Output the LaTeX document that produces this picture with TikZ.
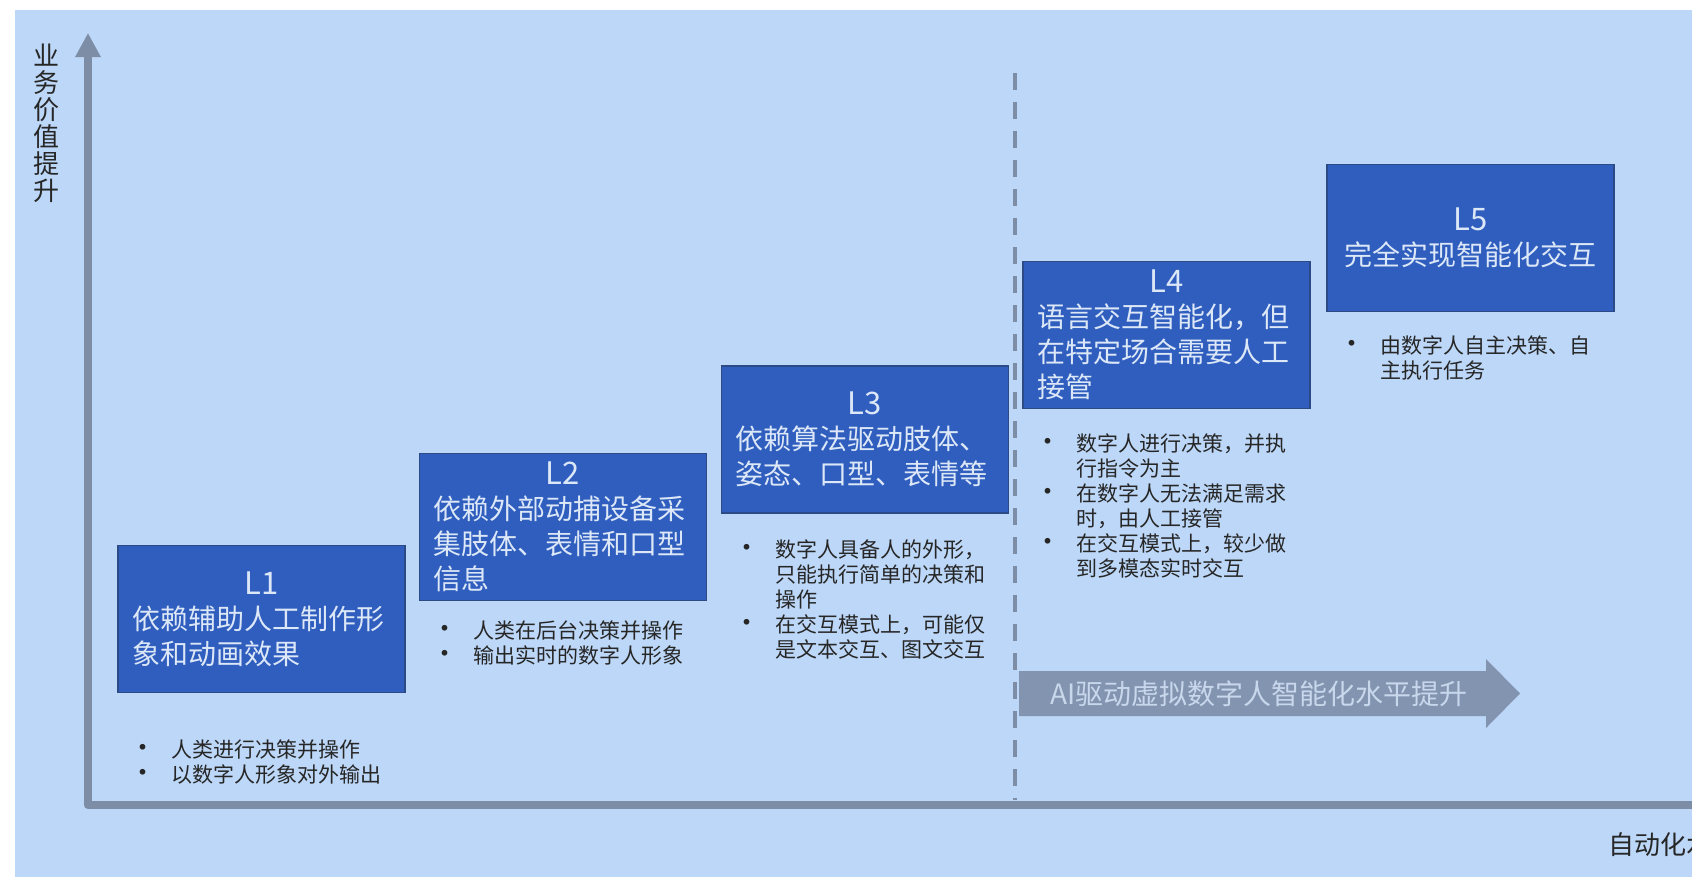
\documentclass[tikz,border=0pt]{standalone}
\usepackage{fontspec}
\setmainfont{Noto Sans CJK SC}
\usetikzlibrary{arrows.meta,positioning}

\definecolor{bgblue}{HTML}{BCD7F7}
\definecolor{lvlfill}{HTML}{2F5EBE}
\definecolor{lvledge}{HTML}{2B4A86}
\definecolor{lvltext}{HTML}{DCE7F7}
\definecolor{axisgray}{HTML}{7D8DA6}
\definecolor{trendgray}{HTML}{8294AF}
\definecolor{trendtext}{HTML}{C9D7EC}
\definecolor{notetext}{HTML}{262626}

\newcommand\lvltitle[1]{{\centering\fontsize{31}{35}\selectfont #1\par}}
\newcommand\bitem{\makebox[42pt][l]{\fontsize{27}{25}\selectfont\textbullet}}
\newcommand\bcont{\hspace*{42pt}}

\begin{document}
\begin{tikzpicture}[x=1pt,y=-1pt,
  lvl/.style={draw=lvledge,line width=1.2pt,fill=lvlfill,text=lvltext,
    text width=259pt,inner xsep=14pt,minimum height=147pt,align=left,
    font=\fontsize{28}{35}\selectfont},
  pts/.style={inner sep=0pt,align=left,text=notetext,font=\fontsize{21}{25}\selectfont},
  axis/.style={draw=axisgray,line width=8pt,line join=round}]
  \useasboundingbox (0,0) rectangle (1692,892);
  \fill[bgblue] (15,10) rectangle (1692,877);

  % axes
  \coordinate (ytop) at (88,33);
  \coordinate (orig) at (88,805);
  \coordinate (xend) at (1692,805);
  \draw[axis,{Triangle[length=24pt,width=24pt]}-] (ytop) -- (orig) -- (xend);
  \node[font=\fontsize{26}{27}\selectfont,text=notetext,align=center,inner sep=0pt] (ylab) at (46,123) {业\\务\\价\\值\\提\\升};
  \begin{scope}
    \clip (15,10) rectangle (1692,877);
    \node[font=\fontsize{26}{27}\selectfont,text=notetext,inner sep=0pt,anchor=west] (xlab) at (1608,845) {自动化水平提升};
  \end{scope}

  % divider
  \coordinate (dtop) at (1015,73);
  \coordinate (dbot) at (1015,800);
  \draw[draw=axisgray,line width=4pt,dash pattern=on 17pt off 12pt] (dtop) -- (dbot);

  % levels
  \node[lvl] (L1) at (261.5,619) {\lvltitle{L1}依赖辅助人工制作形\\象和动画效果};
  \node[lvl] (L2) at (563,527) {\lvltitle{L2}依赖外部动捕设备采\\集肢体、表情和口型\\信息};
  \node[lvl] (L3) at (865,439.5) {\lvltitle{L3}依赖算法驱动肢体、\\姿态、口型、表情等};
  \node[lvl] (L4) at (1166.5,335) {\lvltitle{L4}语言交互智能化，但\\在特定场合需要人工\\接管};
  \node[lvl,align=center] (L5) at (1470.5,238) {\lvltitle{L5}完全实现智能化交互};

  \node[pts,below right=46pt and 12pt of L1.south west] (n1) {\bitem 人类进行决策并操作\\\bitem 以数字人形象对外输出};
  \node[pts,below right=19pt and 12pt of L2.south west] (n2) {\bitem 人类在后台决策并操作\\\bitem 输出实时的数字人形象};
  \node[pts,below right=26pt and 12pt of L3.south west] (n3) {\bitem 数字人具备人的外形，\\\bcont 只能执行简单的决策和\\\bcont 操作\\\bitem 在交互模式上，可能仅\\\bcont 是文本交互、图文交互};
  \node[pts,below right=24pt and 12pt of L4.south west] (n4) {\bitem 数字人进行决策，并执\\\bcont 行指令为主\\\bitem 在数字人无法满足需求\\\bcont 时，由人工接管\\\bitem 在交互模式上，较少做\\\bcont 到多模态实时交互};
  \node[pts,below right=23pt and 12pt of L5.south west] (n5) {\bitem 由数字人自主决策、自\\\bcont 主执行任务};

  % trend arrow
  \fill[trendgray] (1019,671) -- (1486,671) -- (1486,659) -- (1520,693.5) -- (1486,728) -- (1486,716) -- (1019,716) -- cycle;
  \node[font=\fontsize{28}{30}\selectfont,text=trendtext,inner sep=0pt,anchor=west] (trend) at (1050,694) {AI驱动虚拟数字人智能化水平提升};
\end{tikzpicture}
\end{document}
